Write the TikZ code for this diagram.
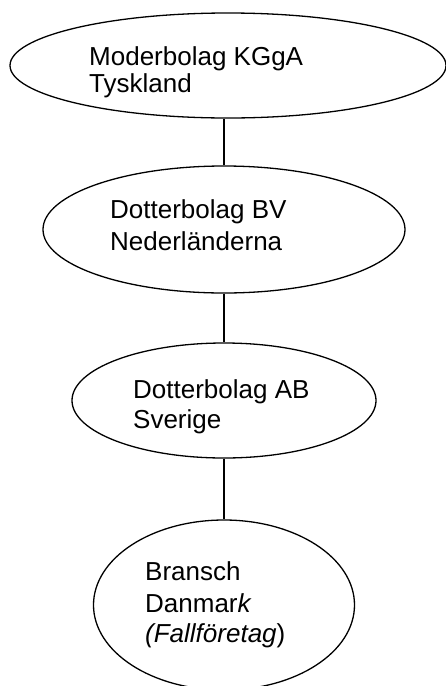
\documentclass[tikz,border=0pt]{standalone}
\usepackage{fontspec}
\setmainfont{Liberation Sans}
\usetikzlibrary{shapes.geometric}
\begin{document}
\begin{tikzpicture}[x=1pt,y=-1pt,
  org/.style={ellipse, draw, line width=1.3pt, inner sep=0pt},
  txt/.style={anchor=base west, inner sep=0pt, font=\fontsize{26}{30}\selectfont},
  link/.style={line width=1.3pt}]
\useasboundingbox (0,0) rectangle (446,686);
\node[org, minimum width=436pt, minimum height=105pt] (e1) at (228,65.5) {};
\node[org, minimum width=362pt, minimum height=127pt] (e2) at (224,229.5) {};
\node[org, minimum width=304pt, minimum height=115pt] (e3) at (224,400.5) {};
\node[org, minimum width=261pt, minimum height=170pt] (e4) at (224,605) {};
\draw[link] (e2.north) -- (e2.north |- e1.south);
\draw[link] (e2.south) -- (e3.north);
\draw[link] (e3.south) -- (e4.north);
\node[txt] (t1a) at (89,65) {Moderbolag KGgA};
\node[txt] (t1b) at (89,92) {Tyskland};
\node[txt] (t2a) at (110,218) {Dotterbolag BV};
\node[txt] (t2b) at (110,250) {Nederländerna};
\node[txt] (t3a) at (133,398) {Dotterbolag AB};
\node[txt] (t3b) at (133,428) {Sverige};
\node[txt] (t4a) at (145,580) {Bransch};
\node[txt] (t4b) at (145,612) {Danmar\textit{k}};
\node[txt] (t4c) at (145,642) {\textit{(Fallföretag})};
\end{tikzpicture}
\end{document}
